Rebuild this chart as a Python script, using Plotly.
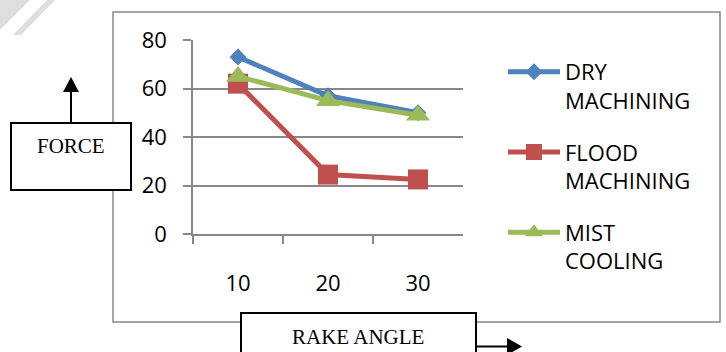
import plotly.graph_objects as go

# Cutting force vs. rake angle for three cooling conditions
rake_angle = ["10", "20", "30"]
dry_machining = [73, 57, 50]
flood_machining = [62, 24.5, 22.5]
mist_cooling = [65, 55, 49]
y_ticks = [0, 20, 40, 60, 80]

W, H = 726, 352


def px(x):
    return x / W


def py(y):
    return 1 - y / H


GRID = "#888888"
TICK_FONT = dict(family="Open Sans", size=22, color="black")
BOX_FONT = dict(family="Liberation Serif", size=21, color="black")

fig = go.Figure()

series = [
    ("DRY<br>MACHINING", dry_machining, "#4F81BD", "diamond", 13),
    ("FLOOD<br>MACHINING", flood_machining, "#C0504D", "square", 20),
    ("MIST<br>COOLING", mist_cooling, "#9BBB59", "triangle-up", 21),
]
for i, (name, vals, color, symbol, size) in enumerate(series):
    fig.add_trace(go.Scatter(
        x=rake_angle, y=vals, name=name, mode="lines+markers",
        legendgroup=f"g{i}",
        line=dict(color=color, width=5),
        marker=dict(color=color, symbol=symbol, size=size),
    ))

shapes = [
    # light diagonal stripes in the corner
    dict(type="path", xref="paper", yref="paper",
         path=f"M {px(0)},{py(0)} L {px(30)},{py(0)} L {px(0)},{py(30)} Z",
         fillcolor="#dedede", line=dict(width=0), layer="below"),
    dict(type="path", xref="paper", yref="paper",
         path=(f"M {px(47)},{py(0)} L {px(55)},{py(0)} "
               f"L {px(21)},{py(35)} L {px(13)},{py(35)} Z"),
         fillcolor="#dedede", line=dict(width=0), layer="below"),
    # chart frame
    dict(type="rect", xref="paper", yref="paper",
         x0=px(113), x1=px(720), y0=py(322), y1=py(12),
         line=dict(color=GRID, width=1.5), layer="below"),
    # FORCE box with upward arrow
    dict(type="rect", xref="paper", yref="paper",
         x0=px(11), x1=px(131), y0=py(190), y1=py(123),
         line=dict(color="black", width=2), fillcolor="white"),
    dict(type="line", xref="paper", yref="paper",
         x0=px(71), x1=px(71), y0=py(123), y1=py(91),
         line=dict(color="black", width=2)),
    dict(type="path", xref="paper", yref="paper",
         path=f"M {px(71)},{py(77)} L {px(79)},{py(92)} L {px(63)},{py(92)} Z",
         fillcolor="black", line=dict(width=0)),
    # RAKE ANGLE box with rightward arrow
    dict(type="rect", xref="paper", yref="paper",
         x0=px(241), x1=px(476), y0=py(362), y1=py(313),
         line=dict(color="black", width=2), fillcolor="white"),
    dict(type="line", xref="paper", yref="paper",
         x0=px(476), x1=px(508), y0=py(346.5), y1=py(346.5),
         line=dict(color="black", width=2)),
    dict(type="path", xref="paper", yref="paper",
         path=f"M {px(522)},{py(346.5)} L {px(507)},{py(338)} L {px(507)},{py(355)} Z",
         fillcolor="black", line=dict(width=0)),
]

annotations = [
    dict(text="FORCE", xref="paper", yref="paper", x=px(71), y=py(146),
         xanchor="center", yanchor="middle", showarrow=False, font=BOX_FONT),
    dict(text="RAKE ANGLE", xref="paper", yref="paper", x=px(358), y=py(337),
         xanchor="center", yanchor="middle", showarrow=False, font=BOX_FONT),
]

fig.update_layout(
    template="none",
    width=W, height=H, autosize=False,
    margin=dict(l=0, r=0, t=0, b=0, pad=0),
    paper_bgcolor="white", plot_bgcolor="white",
    shapes=shapes, annotations=annotations,
    xaxis=dict(
        type="category", domain=[px(193), px(463)], range=[-0.5, 2.5],
        automargin=False,
        showline=True, linecolor=GRID, linewidth=1.5,
        ticks="outside", tickson="boundaries", ticklen=8,
        tickcolor=GRID, tickwidth=1.5,
        showgrid=False, zeroline=False,
        tickfont=TICK_FONT, ticklabelstandoff=29,
    ),
    yaxis=dict(
        domain=[py(234), py(40)], range=[0, 80], tickvals=y_ticks,
        automargin=False,
        showline=True, linecolor=GRID, linewidth=1.5,
        ticks="outside", ticklen=8, tickcolor=GRID, tickwidth=1.5,
        showgrid=True, gridcolor=GRID, gridwidth=1.5, zeroline=False,
        tickfont=TICK_FONT, ticklabelstandoff=12,
    ),
    legend=dict(
        x=px(503), y=py(51), xanchor="left", yanchor="top",
        font=dict(family="Open Sans", size=22, color="black"),
        valign="top", itemwidth=52, tracegroupgap=20,
        bgcolor="rgba(0,0,0,0)", borderwidth=0,
    ),
    showlegend=True,
)

fig.write_html("out.html")
